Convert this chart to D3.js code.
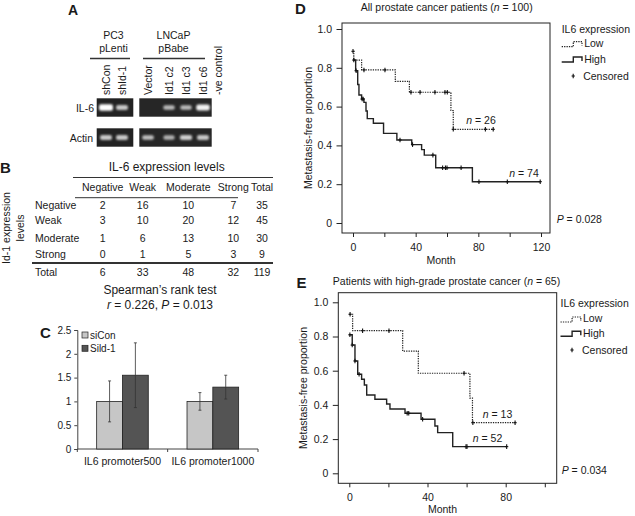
<!DOCTYPE html>
<html><head><meta charset="utf-8">
<script src="https://cdn.jsdelivr.net/npm/d3@7"></script>
<style>body{margin:0;background:#fff}svg{display:block;font-family:"Liberation Sans",Arial,sans-serif;fill:#1a1a1a}</style>
</head><body><svg id="c" width="635" height="516"></svg>
<script>
// ---------------- DATA ----------------
// Panel A (gel)
const gelLanes = ["shCon","shId-1","Vector","Id1 c2","Id1 c3","Id1 c6","-ve control"];
const il6Bands = [1.0, 0.6, 0.0, 0.5, 0.5, 0.9, 0.0];
const actinBands = [0.6, 0.6, 0.55, 0.45, 0.65, 0.6, 0.0];
// Panel B (table)
const il6Levels = ["Negative","Weak","Moderate","Strong","Total"];
const id1Levels = ["Negative","Weak","Moderate","Strong"];
const rowNegative = [2,16,10,7,35];
const rowWeak = [3,10,20,12,45];
const rowModerate = [1,6,13,10,30];
const rowStrong = [0,1,5,3,9];
const rowTotal = [6,33,48,32,119];
// Panel C (bars)
const cCategories = ["IL6 promoter500","IL6 promoter1000"];
const cSeries = ["siCon","Sild-1"];
const siConValues = [1.0, 1.0];
const siConErr = [0.43, 0.185];
const sild1Values = [1.55, 1.3];
const sild1Err = [0.68, 0.25];
const cTicks = [0,0.5,1,1.5,2,2.5];
// Panel D (KM, all patients)
const dLowTimes = [0, 0.5, 5.5, 27, 36, 62.5, 64];
const dLowSurv  = [0.885, 0.84, 0.789, 0.73, 0.674, 0.58, 0.483];
const dLowEnd = 89.5;
const dLowCensor = [0, 7, 20.4, 37, 42.8, 52.3, 58.7, 60.2, 64, 84.5, 89.5];
const dHighTimes = [0, 1.7, 3, 3.8, 5.5, 7, 8.3, 9.1, 13, 19.5, 28, 37.5, 43.8, 45.5, 52.8, 76.2];
const dHighSurv  = [0.84, 0.785, 0.714, 0.66, 0.639, 0.622, 0.577, 0.538, 0.514, 0.462, 0.428, 0.404, 0.378, 0.35, 0.285, 0.213];
const dHighEnd = 119.5;
const dHighCensor = [0.5, 2, 5.8, 6.5, 30, 38, 51, 57.2, 59, 60, 69, 80.4, 98.5, 119.5];
const dXTicks = [0,20,40,60,80,100,120];
// Panel E (KM, high grade)
const eLowTimes = [0, 1.7, 27.3, 35.3, 61.7, 63];
const eLowSurv  = [0.93, 0.834, 0.715, 0.585, 0.44, 0.296];
const eLowEnd = 84.8;
const eLowCensor = [0.4, 6.8, 20.3, 58.7, 63.2, 84.8];
const eHighTimes = [0, 1.5, 2.9, 4.3, 6.3, 7.7, 8.9, 13.1, 19.1, 20.8, 28.5, 36.7, 43.8, 45.2, 52.9];
const eHighSurv  = [0.81, 0.75, 0.657, 0.579, 0.55, 0.516, 0.458, 0.433, 0.405, 0.376, 0.351, 0.316, 0.277, 0.238, 0.156];
const eHighEnd = 80.5;
const eHighCensor = [0.3, 1.5, 2.9, 5, 29.6, 30.4, 37.5, 59.7, 60.2, 80.5];
const eXTicks = [0,20,40,60,80,100];
const kmYTicks = [0,0.2,0.4,0.6,0.8,1.0];

// ---------------- DRAW ----------------
const svg = d3.select("#c");
const FONT = '"Liberation Sans",Arial,sans-serif';
const ink = "#1a1a1a";

function txt(g, x, y, s, size, anchor, extra){
  const t = g.append("text").attr("x",x).attr("y",y).attr("font-size",size)
    .attr("text-anchor",anchor||"start").attr("fill",ink);
  if (Array.isArray(s)) s.forEach(p => t.append("tspan").attr("font-style", p[1]?"italic":null).text(p[0]));
  else t.text(s);
  if (extra) extra(t);
  return t;
}
function letter(x,y,s,size){ txt(svg,x,y,s,size||15,"start",t=>t.attr("font-weight","bold")); }

// ===== Panel A =====
letter(68,15,"A",14);
const defs = svg.append("defs");
defs.append("filter").attr("id","blur").attr("x","-50%").attr("y","-100%").attr("width","200%").attr("height","300%")
  .append("feGaussianBlur").attr("stdDeviation",1.1);
txt(svg,113.5,39,"PC3",10.5,"middle");
txt(svg,113.5,52,"pLenti",10.5,"middle");
txt(svg,173.5,39,"LNCaP",10.5,"middle");
txt(svg,173.5,52,"pBabe",10.5,"middle");
svg.append("line").attr("x1",90).attr("x2",130).attr("y1",58.5).attr("y2",58.5).attr("stroke","#333").attr("stroke-width",1.3);
svg.append("line").attr("x1",143).attr("x2",205).attr("y1",58.5).attr("y2",58.5).attr("stroke","#333").attr("stroke-width",1.3);
const laneXs = [106,122,148,169,186,203,218];
gelLanes.forEach((l,i)=>{
  txt(svg,0,0,l,10.5,"start",t=>t.attr("transform",`translate(${laneXs[i]+3.5},95) rotate(-90)`));
});
txt(svg,94,112,"IL-6",10.5,"end");
txt(svg,93,142,"Actin",10.5,"end");
[[98.3,116.7],[128.3,146.7]].forEach(([y0,y1])=>{
  svg.append("rect").attr("x",96.7).attr("y",y0).attr("width",36.6).attr("height",y1-y0).attr("fill","#222");
  svg.append("rect").attr("x",139.3).attr("y",y0).attr("width",72.4).attr("height",y1-y0).attr("fill","#262626");
});
function bands(vals, yc){
  vals.forEach((v,i)=>{
    if (v<=0 || laneXs[i]>210) return;
    const w = 9 + 5*v, h = 2.5 + 4*v;
    const gv = Math.round(255*(0.45+0.55*v));
    svg.append("rect").attr("x",laneXs[i]-w/2).attr("y",yc-h/2).attr("width",w).attr("height",h)
      .attr("rx",2).attr("fill",d3.rgb(gv,gv,gv)).attr("filter","url(#blur)");
  });
}
bands(il6Bands,107.5);
bands(actinBands,137.5);

// ===== Panel B =====
letter(0,173,"B",15);
txt(svg,166.7,171,"IL-6 expression levels",12,"middle");
svg.append("line").attr("x1",73).attr("x2",273).attr("y1",177.5).attr("y2",177.5).attr("stroke","#333").attr("stroke-width",1.2);
const colX = [102.7,142.7,188.3,233.3,262];
il6Levels.forEach((c,i)=>txt(svg,colX[i],190.5,c,10.5,"middle"));
svg.append("line").attr("x1",75).attr("x2",238).attr("y1",197.7).attr("y2",197.7).attr("stroke","#333").attr("stroke-width",1);
const rowsB = [rowNegative,rowWeak,rowModerate,rowStrong];
const rowY = [208.7,224.4,242,257.7];
rowsB.forEach((r,ri)=>{
  txt(svg,35,rowY[ri],id1Levels[ri],10.5,"start");
  r.forEach((v,ci)=>txt(svg,colX[ci],rowY[ri],String(v),10.5,"middle"));
});
svg.append("line").attr("x1",32).attr("x2",273).attr("y1",263).attr("y2",263).attr("stroke","#333").attr("stroke-width",2);
txt(svg,35,276.4,"Total",10.5,"start");
rowTotal.forEach((v,ci)=>txt(svg,colX[ci],276.4,String(v),10.5,"middle"));
txt(svg,0,0,"Id-1 expression",10.5,"middle",t=>t.attr("transform","translate(9.5,228) rotate(-90)"));
txt(svg,0,0,"levels",10.5,"middle",t=>t.attr("transform","translate(23.5,228) rotate(-90)"));
txt(svg,160,294,"Spearman\u2019s rank test",12,"middle");
txt(svg,160,309,[["r",1],[" = 0.226, ",0],["P",1],[" = 0.013",0]],12,"middle");

// ===== Panel C =====
letter(40,338,"C",15);
const cy = d3.scaleLinear().domain([0,2.5]).range([449,330]);
const cx0 = d3.scaleBand().domain(cCategories).range([77.3,258]).paddingInner(0).paddingOuter(0);
const cx1 = d3.scaleBand().domain(cSeries).range([0,cx0.bandwidth()]).paddingInner(0).paddingOuter(0.75);
const cColors = {"siCon":"#c6c6c6","Sild-1":"#545454"};
const gC = svg.append("g");
const yAxC = gC.append("g").attr("transform","translate(77.3,0)")
  .call(d3.axisLeft(cy).tickValues(cTicks).tickSize(3).tickPadding(3).tickFormat(d3.format("")));
yAxC.selectAll("text").attr("font-size",10).attr("font-family",FONT).attr("fill",ink);
yAxC.selectAll("line,path").attr("stroke","#444");
const xAxC = gC.append("g").attr("transform","translate(0,449)");
xAxC.append("line").attr("x1",77.3).attr("x2",258).attr("stroke","#444");
[77.3, cx0(cCategories[1]), 258].forEach(x=>xAxC.append("line").attr("x1",x).attr("x2",x).attr("y1",0).attr("y2",3).attr("stroke","#444"));
cCategories.forEach(c=>txt(gC,cx0(c)+cx0.bandwidth()/2,464.5,c,10.5,"middle"));
const seriesVals = {"siCon":[siConValues,siConErr],"Sild-1":[sild1Values,sild1Err]};
cSeries.forEach(s=>{
  const [vals,errs] = seriesVals[s];
  cCategories.forEach((c,i)=>{
    const x = cx0(c)+cx1(s), w = cx1.bandwidth();
    gC.append("rect").attr("x",x).attr("y",cy(vals[i])).attr("width",w).attr("height",cy(0)-cy(vals[i]))
      .attr("fill",cColors[s]).attr("stroke","#222").attr("stroke-width",0.8);
    const xc = x + w/2;
    gC.append("line").attr("x1",xc).attr("x2",xc).attr("y1",cy(vals[i]-errs[i])).attr("y2",cy(vals[i]+errs[i])).attr("stroke","#333").attr("stroke-width",0.8);
    [vals[i]-errs[i], vals[i]+errs[i]].forEach(v=>gC.append("line").attr("x1",xc-1.5).attr("x2",xc+1.5).attr("y1",cy(v)).attr("y2",cy(v)).attr("stroke","#333").attr("stroke-width",0.8));
  });
});
cSeries.forEach((s,i)=>{
  const yc = 335 + i*13.3;
  gC.append("rect").attr("x",82).attr("y",yc-3).attr("width",6).attr("height",6).attr("fill",cColors[s]).attr("stroke","#222").attr("stroke-width",0.7);
  txt(gC,90,yc+3.5,s,10,"start");
});

// ===== KM panels =====
function censor(g,cx,cy){
  g.append("line").attr("x1",cx).attr("x2",cx).attr("y1",cy-2.3).attr("y2",cy+2.3).attr("stroke","#111").attr("stroke-width",1.1);
  g.append("line").attr("x1",cx-1.6).attr("x2",cx+1.6).attr("y1",cy).attr("y2",cy).attr("stroke","#111").attr("stroke-width",1.1);
}
function km(cfg){
  const g = svg.append("g");
  const x = d3.scaleLinear().domain([0,cfg.xMax]).range(cfg.xr);
  const y = d3.scaleLinear().domain([0,1]).range(cfg.yr);
  const b = cfg.box;
  g.append("rect").attr("x",b[0]).attr("y",b[1]).attr("width",b[2]-b[0]).attr("height",b[3]-b[1])
    .attr("fill","none").attr("stroke","#222").attr("stroke-width",1);
  const ya = g.append("g").attr("transform",`translate(${b[0]},0)`)
    .call(d3.axisLeft(y).tickValues(kmYTicks).tickSize(5.5).tickPadding(4.5).tickFormat(d=>d===0?"0":d3.format(".1f")(d)));
  ya.select(".domain").remove();
  const xa = g.append("g").attr("transform",`translate(0,${b[3]})`)
    .call(d3.axisBottom(x).tickValues(cfg.xTicks).tickSize(4).tickPadding(6.5).tickFormat(d=>d%40===0?d:""));
  xa.select(".domain").remove();
  [ya,xa].forEach(a=>{a.selectAll("text").attr("font-size",10.5).attr("font-family",FONT).attr("fill",ink);
    a.selectAll("line").attr("stroke","#222");});
  txt(g,(b[0]+b[2])/2-5,cfg.monthY,"Month",10.5,"middle");
  txt(g,0,0,"Metastasis-free proportion",10.5,"middle",t=>t.attr("transform",`translate(${cfg.ylabX},${(b[1]+b[3])/2}) rotate(-90)`));
  const line = d3.line().x(d=>x(d[0])).y(d=>y(d[1])).curve(d3.curveStepAfter);
  function curve(times,surv,end,cens,dash,w){
    const pts = times.map((t,i)=>[t,surv[i]]).concat([[end,surv[surv.length-1]]]);
    g.append("path").attr("d",line(pts)).attr("fill","none").attr("stroke","#222")
      .attr("stroke-width",w).attr("stroke-dasharray",dash);
    cens.forEach(t=>{
      let s = surv[0]; times.forEach((tt,i)=>{ if (tt<=t) s = surv[i]; });
      censor(g,x(t),y(s));
    });
  }
  curve(cfg.low[0],cfg.low[1],cfg.low[2],cfg.low[3],"1.3,1.1",1.2);
  curve(cfg.high[0],cfg.high[1],cfg.high[2],cfg.high[3],null,1.4);
  txt(g,cfg.nLow[0],cfg.nLow[1],[["n",1],[" = "+cfg.nLow[2],0]],10.5,"middle");
  txt(g,cfg.nHigh[0],cfg.nHigh[1],[["n",1],[" = "+cfg.nHigh[2],0]],10.5,"middle");
  txt(g,cfg.pPos[0],cfg.pPos[1],[["P",1],[" = "+cfg.pPos[2],0]],10.5,"start");
  txt(g,cfg.title[0],cfg.title[1],cfg.title[2],10.5,"middle");
  const L = cfg.leg;
  txt(g,L.x,L.y[0],"IL6 expression",10.5,"start");
  const sym = (yb,dash,w)=>g.append("path").attr("d",`M${L.x},${yb}H${L.x+11.6}V${yb-5}H${L.x+20.3}V${yb-1}`)
    .attr("fill","none").attr("stroke","#222").attr("stroke-width",w).attr("stroke-dasharray",dash);
  sym(L.y[1]+0.2,"1.3,1.1",1.2); txt(g,L.x+22.5,L.y[1],"Low",10.5,"start");
  sym(L.y[2]-0.5,null,1.4); txt(g,L.x+22.5,L.y[2],"High",10.5,"start");
  censor(g,L.x+11.5,L.y[3]-3.5); txt(g,L.x+21.5,L.y[3],"Censored",10.5,"start");
}

letter(295,13.5,"D",15);
km({
  xMax:120, xr:[353,541], yr:[223,29], box:[342,23,550,233], xTicks:dXTicks,
  monthY:263.5, ylabX:311.5,
  low:[dLowTimes,dLowSurv,dLowEnd,dLowCensor], high:[dHighTimes,dHighSurv,dHighEnd,dHighCensor],
  nLow:[481,124.2,26], nHigh:[524,176.8,74], pPos:[556.7,222.8,"0.028"],
  title:[446.7,11.2,[["All prostate cancer patients (",0],["n",1],[" = 100)",0]]],
  leg:{x:561.7, y:[32.5,46.5,62.5,79.5]}
});
letter(296.5,288.3,"E",15);
km({
  xMax:80, xr:[349.3,505.7], yr:[473.3,302.3], box:[338.3,292.7,556.7,483.3], xTicks:eXTicks,
  monthY:512.8, ylabX:306.5,
  low:[eLowTimes,eLowSurv,eLowEnd,eLowCensor], high:[eHighTimes,eHighSurv,eHighEnd,eHighCensor],
  nLow:[497.5,417.8,13], nHigh:[487.5,441.8,52], pPos:[561.7,473.5,"0.034"],
  title:[446.5,284.5,[["Patients with high-grade prostate cancer (",0],["n",1],[" = 65)",0]]],
  leg:{x:560.5, y:[306.8,321.8,336.8,353.5]}
});
</script></body></html>
